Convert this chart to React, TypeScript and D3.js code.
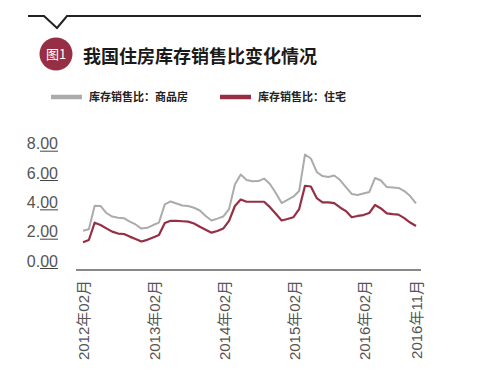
import * as React from 'react';
import * as d3 from 'd3';

// months Feb 2012 .. Nov 2016 (category axis)
const months: string[] = d3
    .timeMonth.range(new Date(2012, 1, 1), new Date(2016, 11, 1))
    .map((d) => d3.timeFormat('%Y年%m月')(d));

const tickLabels = ['2012年02月', '2013年02月', '2014年02月', '2015年02月', '2016年02月', '2016年11月'];
const yTicks = [0, 2, 4, 6, 8];

// 库存销售比：商品房
const commercial = [
    2.54, 2.64, 4.25, 4.23, 3.75, 3.51, 3.43, 3.40, 3.17, 2.97, 2.69,
    2.74, 2.93, 3.10, 4.34, 4.54, 4.40, 4.26, 4.23, 4.11, 3.92, 3.55, 3.24,
    3.37, 3.51, 4.02, 5.69, 6.38, 6.00, 5.91, 5.93, 6.10, 5.73, 5.12, 4.43,
    4.64, 4.86, 5.25, 7.74, 7.47, 6.55, 6.27, 6.21, 6.31, 6.00, 5.52, 5.05,
    4.98, 5.08, 5.18, 6.14, 5.97, 5.52, 5.49, 5.46, 5.25, 4.91, 4.41,
];

// 库存销售比：住宅
const residential = [
    1.75, 1.91, 3.09, 2.93, 2.70, 2.48, 2.35, 2.32, 2.14, 1.98, 1.81,
    1.92, 2.08, 2.25, 3.07, 3.22, 3.21, 3.19, 3.16, 3.03, 2.82, 2.61, 2.41,
    2.52, 2.69, 3.21, 4.23, 4.67, 4.52, 4.52, 4.52, 4.52, 4.15, 3.70, 3.24,
    3.34, 3.46, 4.02, 5.61, 5.56, 4.77, 4.48, 4.48, 4.43, 4.13, 3.88, 3.46,
    3.55, 3.61, 3.75, 4.30, 4.06, 3.73, 3.68, 3.64, 3.40, 3.10, 2.86,
];

const GRAY = '#ababab';
const RED = '#962f43';
const NUM_FONT = '"Liberation Sans", Arial, "Noto Sans CJK SC", sans-serif';
const CJK_FONT = '"Noto Sans CJK SC", sans-serif';

export default function App() {
    const x = d3.scalePoint<string>().domain(months).range([83, 416]);
    const y = d3.scaleLinear().domain([0, 8]).range([268, 150.7]);

    const mkLine = d3
        .line<number>()
        .x((_, i) => x(months[i]) as number)
        .y((d) => y(d));

    const fmt = d3.format('.2f');

    return (
        <svg
            width={501}
            height={388}
            style={{ position: 'absolute', left: 0, top: 0, background: '#fff' }}
        >
            {/* header rule with notch */}
            <path
                d="M28,16 L44,16 L57,28 L67,16 L421,16"
                fill="none"
                stroke="#222"
                strokeWidth={2}
            />
            <circle cx={56} cy={54} r={16.5} fill={RED} />
            <text x={56} y={54} dy="0.36em" textAnchor="middle" fill="#fff" fontSize={13} fontFamily={CJK_FONT}>
                图1
            </text>
            <text x={83} y={57} dy="0.36em" fontSize={18} fontWeight="bold" fill="#1a1a1a" fontFamily={CJK_FONT}>
                我国住房库存销售比变化情况
            </text>

            {/* legend */}
            <line x1={51} x2={82} y1={97} y2={97} stroke={GRAY} strokeWidth={4.5} />
            <text x={89} y={97} dy="0.36em" fontSize={11} fontWeight="bold" fill="#222" fontFamily={CJK_FONT}>
                库存销售比：商品房
            </text>
            <line x1={220} x2={251} y1={97} y2={97} stroke={RED} strokeWidth={4.5} />
            <text x={258} y={97} dy="0.36em" fontSize={11} fontWeight="bold" fill="#222" fontFamily={CJK_FONT}>
                库存销售比：住宅
            </text>

            {/* y axis labels */}
            {yTicks.map((t) => (
                <g key={t}>
                    <text
                        x={58}
                        y={y(t) - 1.5}
                        textAnchor="end"
                        fontSize={16}
                        fill="#555"
                        fontFamily={NUM_FONT}
                    >
                        {fmt(t)}
                    </text>
                    <line x1={40} x2={58} y1={y(t) + 0.5} y2={y(t) + 0.5} stroke="#444" strokeWidth={1} />
                </g>
            ))}

            {/* x axis */}
            <line x1={76} x2={421} y1={270} y2={270} stroke="#888" strokeWidth={2} />
            {tickLabels.map((lab) => (
                <text
                    key={lab}
                    transform={`translate(${(x(lab) as number) + 1},280) rotate(-90)`}
                    dy="0.36em"
                    textAnchor="end"
                    fontSize={15}
                    fill="#555"
                    fontFamily={NUM_FONT}
                >
                    {lab}
                </text>
            ))}

            {/* series */}
            <path d={mkLine(commercial) as string} fill="none" stroke={GRAY} strokeWidth={2} strokeLinejoin="round" />
            <path d={mkLine(residential) as string} fill="none" stroke={RED} strokeWidth={2.2} strokeLinejoin="round" />
        </svg>
    );
}
